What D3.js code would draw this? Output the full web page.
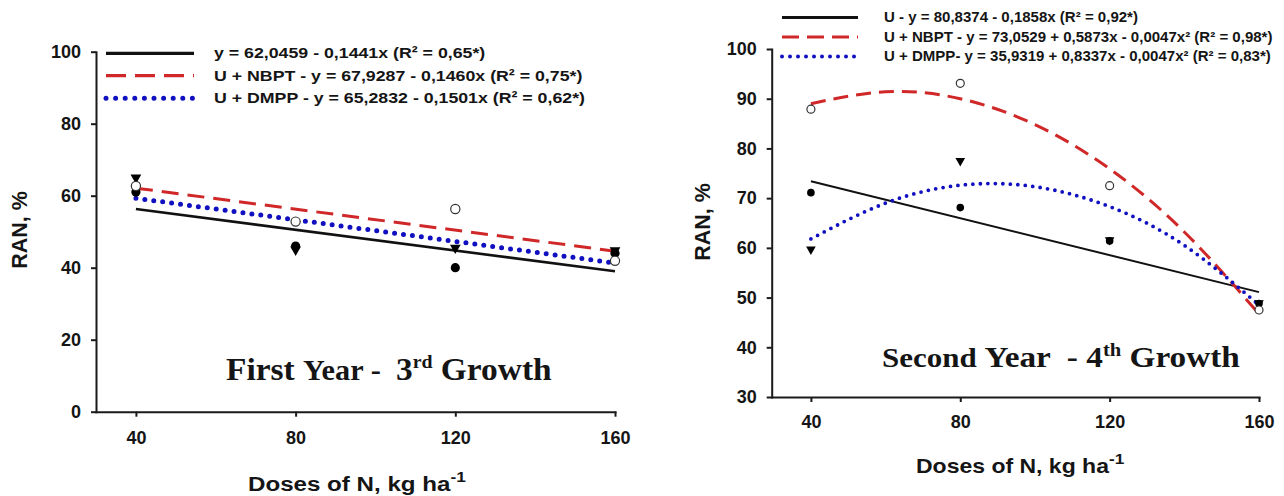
<!DOCTYPE html>
<html>
<head>
<meta charset="utf-8">
<script src="https://cdn.jsdelivr.net/npm/d3@7"></script>
<style>
  body { margin: 0; background: #fff; }
  svg { display: block; }
  text { font-family: Arial, "Liberation Sans", sans-serif; font-weight: bold; fill: #151515; }
  .axis path, .axis line { stroke: #1a1a1a; stroke-width: 2; }
  .axis text { font-size: 18px; }
  .note { font-family: "Liberation Serif", "Times New Roman", serif; white-space: pre; }
</style>
</head>
<body>
<svg id="chart" width="1284" height="496"></svg>
<script>
const doses = [40, 80, 120, 160];
const xTicks = [40, 80, 120, 160];

// First year, 3rd growth (observed points)
const yr1U = [61.0, 46.0, 40.0, 44.0];
const yr1NBPT = [62.7, 52.8, 56.3, 41.9];
const yr1DMPP = [65.0, 45.0, 45.5, 44.8];
const yr1Ticks = [0, 20, 40, 60, 80, 100];

// fitted lines, read at the ends of the dose range
const yr1FitX = [40, 160];
const yr1FitU = [56.3, 39.0];
const yr1FitNBPT = [62.1, 44.6];
const yr1FitDMPP = [59.3, 41.3];

const yr1Legend = [
  "y = 62,0459 - 0,1441x (R² = 0,65*)",
  "U + NBPT - y = 67,9287 - 0,1460x (R² = 0,75*)",
  "U + DMPP - y = 65,2832 - 0,1501x (R² = 0,62*)"
];

// Second year, 4th growth (observed points)
const yr2U = [71.1, 68.1, 61.4, 48.8];
const yr2NBPT = [87.9, 93.1, 72.5, 47.5];
const yr2DMPP = [59.7, 77.5, 61.6, 48.9];
const yr2Ticks = [30, 40, 50, 60, 70, 80, 90, 100];

// fitted curves
const yr2FitX = [40, 160];
const yr2FitU = [73.4, 51.1];
const yr2CurveX = [40, 60, 80, 100, 120, 140, 160];
const yr2FitNBPT = [89.0, 91.4, 90.0, 84.8, 75.9, 63.2, 46.7];
const yr2FitDMPP = [61.8, 69.0, 72.6, 72.3, 68.3, 60.5, 48.5];

const yr2Legend = [
  "U - y = 80,8374 - 0,1858x (R² = 0,92*)",
  "U + NBPT - y = 73,0529 + 0,5873x - 0,0047x² (R² = 0,98*)",
  "U + DMPP- y = 35,9319 + 0,8337x - 0,0047x² (R² = 0,83*)"
];

const RED = "#d02828", BLUE = "#1010c0", BLACK = "#111";

const svg = d3.select("#chart");

function zip(xs, ys) {
  return xs.map((x, i) => [x, ys[i]]);
}

// widen a text horizontally around its x anchor (the original font runs wider than Arial)
function stretch(sel, k) {
  const x0 = +sel.attr("x");
  sel.attr("transform", "translate(" + x0 + ",0) scale(" + k + ",1) translate(" + (-x0) + ",0)");
}

function fitWidth(sel, w) {
  stretch(sel, w / sel.node().getBBox().width);
}

function drawPanel(p) {
  const x = d3.scaleLinear().domain(p.xDomain).range(p.xRange);
  const y = d3.scaleLinear().domain(p.yDomain).range(p.yRange);
  const g = svg.append("g");

  g.append("g")
      .attr("class", "axis")
      .attr("transform", "translate(" + p.xRange[0] + ",0)")
      .call(d3.axisLeft(y).tickValues(p.yTicks).tickSize(5).tickSizeOuter(0).tickPadding(p.yPad));
  g.append("g")
      .attr("class", "axis")
      .attr("transform", "translate(0," + p.yRange[0] + ")")
      .call(d3.axisBottom(x).tickValues(xTicks).tickSize(5).tickSizeOuter(0).tickPadding(p.xPad));
  g.selectAll(".axis .domain").attr("stroke-linecap", "square");

  // line styles: solid / dashed / dotted
  const styles = [
    { stroke: BLACK, width: p.blackW, dash: null, cap: "butt" },
    { stroke: RED, width: 3, dash: p.redDash, cap: "butt" },
    { stroke: BLUE, width: p.dotW, dash: "0," + p.dotGap, cap: "round" }
  ];

  const line = d3.line().x(d => x(d[0])).y(d => y(d[1]));
  const curve = d3.line().curve(d3.curveNatural).x(d => x(d[0])).y(d => y(d[1]));

  p.fits.forEach((f, i) => {
    const s = styles[i];
    g.append("path")
        .datum(zip(f.x, f.y))
        .attr("d", f.x.length > 2 ? curve : line)
        .attr("fill", "none")
        .attr("stroke", s.stroke)
        .attr("stroke-width", s.width)
        .attr("stroke-dasharray", s.dash)
        .attr("stroke-linecap", s.cap);
  });

  // markers: U filled circle, U+NBPT open circle, U+DMPP filled triangle down
  const tri = d3.symbol().type(d3.symbolTriangle).size(p.triSize);
  g.selectAll(".tri").data(zip(doses, p.dmpp)).enter()
      .append("path")
      .attr("d", tri)
      .attr("transform", d => "translate(" + x(d[0]) + "," + y(d[1]) + ") rotate(180)")
      .attr("fill", "#000");
  g.selectAll(".dot").data(zip(doses, p.u)).enter()
      .append("circle")
      .attr("cx", d => x(d[0])).attr("cy", d => y(d[1]))
      .attr("r", p.dotR)
      .attr("fill", "#000");
  g.selectAll(".ring").data(zip(doses, p.nbpt)).enter()
      .append("circle")
      .attr("cx", d => x(d[0])).attr("cy", d => y(d[1]))
      .attr("r", p.ringR)
      .attr("fill", "#fff")
      .attr("stroke", "#333")
      .attr("stroke-width", 1.2);

  // legend
  const legend = g.append("g").attr("class", "legend");
  p.legend.forEach((label, i) => {
    const s = styles[i];
    const ly = p.legendY[i];
    legend.append("line")
        .attr("x1", p.legendX[0]).attr("x2", p.legendX[1])
        .attr("y1", ly).attr("y2", ly)
        .attr("stroke", s.stroke)
        .attr("stroke-width", i == 2 ? p.legendDotW : 3.2)
        .attr("stroke-dasharray", i == 0 ? null : (i == 1 ? p.legendDash : "0," + p.legendDotGap))
        .attr("stroke-linecap", s.cap);
    const t = legend.append("text")
        .attr("x", p.legendX[2])
        .attr("y", ly + 5)
        .style("font-size", p.legendFont + "px")
        .text(label);
    stretch(t, p.legendStretch);
  });

  // axis titles
  const xt = g.append("text")
      .attr("x", p.xTitle[0]).attr("y", p.xTitle[1])
      .style("font-size", p.xTitleFont + "px");
  xt.append("tspan").text("Doses of N, kg ha");
  xt.append("tspan").attr("dy", -9).style("font-size", "15px").text("-1");
  stretch(xt, 1.15);

  g.append("text")
      .attr("transform", "translate(" + p.yTitle[0] + "," + p.yTitle[1] + ") rotate(-90)")
      .attr("text-anchor", "middle")
      .attr("dy", "0.35em")
      .style("font-size", "21.5px")
      .text("RAN, %");

  // panel annotation
  const note = g.append("text")
      .attr("class", "note")
      .attr("xml:space", "preserve")
      .attr("x", p.note[0]).attr("y", p.note[1])
      .style("font-size", p.noteFont + "px");
  p.noteText.forEach((part, i) => {
    const ts = note.append("tspan").text(part[0]);
    if (part[1]) ts.style("font-size", part[1] + "px");
    if (part[2]) ts.attr("dy", part[2]);
  });
  fitWidth(note, p.noteWidth);
}

drawPanel({
  xDomain: [30, 160], xRange: [96, 615],
  yDomain: [0, 100], yRange: [411.7, 51.7],
  yTicks: yr1Ticks, yPad: 10, xPad: 15,
  u: yr1U, nbpt: yr1NBPT, dmpp: yr1DMPP,
  fits: [
    { x: yr1FitX, y: yr1FitU },
    { x: yr1FitX, y: yr1FitNBPT },
    { x: yr1FitX, y: yr1FitDMPP }
  ],
  blackW: 2.6, redDash: "17,9", dotW: 5, dotGap: 9,
  triSize: 50, dotR: 4.6, ringR: 4.6,
  legend: yr1Legend, legendY: [53.3, 75.7, 98.3], legendX: [106, 194, 214],
  legendDash: "20,9", legendDotW: 5, legendDotGap: 9.6, legendFont: 15.5, legendStretch: 1.145,
  xTitle: [248, 491], xTitleFont: 21, yTitle: [19, 230],
  note: [226, 380], noteFont: 32, noteWidth: 326,
  noteText: [["First "], ["Year -  ", 29], ["3"], ["rd", 19, -12], [" Growth", null, 12]]
});

drawPanel({
  xDomain: [29.5, 160], xRange: [771.7, 1259],
  yDomain: [30, 100], yRange: [397, 49],
  yTicks: yr2Ticks, yPad: 10, xPad: 13,
  u: yr2U, nbpt: yr2NBPT, dmpp: yr2DMPP,
  fits: [
    { x: yr2FitX, y: yr2FitU },
    { x: yr2CurveX, y: yr2FitNBPT },
    { x: yr2CurveX, y: yr2FitDMPP }
  ],
  blackW: 2, redDash: "15,8", dotW: 3.8, dotGap: 7.5,
  triSize: 40, dotR: 3.8, ringR: 4,
  legend: yr2Legend, legendY: [17.5, 37, 56.5], legendX: [782, 858, 884],
  legendDash: "17,8", legendDotW: 4, legendDotGap: 8, legendFont: 13.8, legendStretch: 1.09,
  xTitle: [916, 473], xTitleFont: 20, yTitle: [702, 222],
  note: [882, 367], noteFont: 29, noteWidth: 358,
  noteText: [["Second ", 27], ["Year  - 4"], ["th", 18, -11], [" Growth", null, 11]]
});
</script>
</body>
</html>
